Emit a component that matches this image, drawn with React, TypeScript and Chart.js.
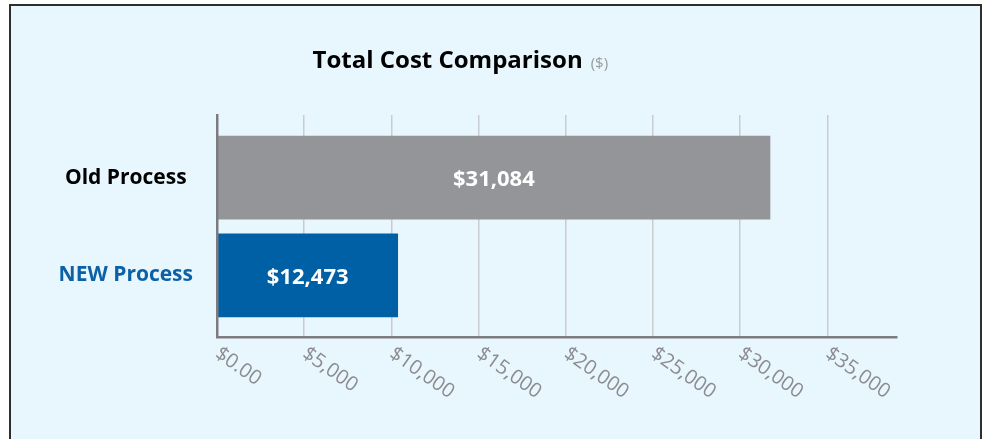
import React, { useEffect, useRef } from "react";
import { Chart, registerables } from "chart.js";

Chart.register(...registerables);

// ---- data ----
const categories = ["Old Process", "NEW Process"];
const barValues = [31716, 10364]; // bar lengths as drawn
const valueLabels = ["$31,084", "$12,473"]; // printed values inside the bars
const xTickValues = [0, 5000, 10000, 15000, 20000, 25000, 30000, 35000];
const xTickLabels = ["$0.00", "$5,000", "$10,000", "$15,000", "$20,000", "$25,000", "$30,000", "$35,000"];
const xMax = 39000;
const titleText = "Total Cost Comparison";
const titleUnit = "($)";

// ---- styles ----
const FONT = '"Open Sans", "Noto Sans", sans-serif';
const barColors = ["#949599", "#0060a5"];
const categoryLabelColors = ["#000000", "#0b60a6"];
const axisColor = "#7c7c80";
const gridColor = "#c9ccd0";
const tickColor = "#8c8c90";

const overlayPlugin = {
  id: "overlay",
  afterDatasetsDraw(chart: any) {
    const ctx = chart.ctx;
    const meta = chart.getDatasetMeta(0);
    ctx.save();
    ctx.font = `bold 22px ${FONT}`;
    ctx.fillStyle = "#ffffff";
    ctx.textAlign = "center";
    ctx.textBaseline = "alphabetic";
    meta.data.forEach((el: any, i: number) => {
      const { x, y, base } = el.getProps(["x", "y", "base"], true);
      ctx.fillText(valueLabels[i], (x + base) / 2, y + 8.5);
    });
    ctx.restore();
  },
  afterDraw(chart: any) {
    const ctx = chart.ctx;
    const xs = chart.scales.x;
    const bottom = chart.chartArea.bottom;
    ctx.save();
    ctx.font = `500 20px ${FONT}`;
    ctx.fillStyle = tickColor;
    ctx.textAlign = "left";
    ctx.textBaseline = "alphabetic";
    xs.ticks.forEach((t: any, i: number) => {
      const px = xs.getPixelForValue(t.value);
      ctx.save();
      ctx.translate(px - 3, bottom + 19.5);
      ctx.rotate((35 * Math.PI) / 180);
      ctx.fillText(xTickLabels[i] ?? String(t.label), 0, 0);
      ctx.restore();
    });
    // title
    ctx.font = `bold 24px ${FONT}`;
    ctx.fillStyle = "#000000";
    ctx.fillText(titleText, 312.5, 68.3);
    const w = ctx.measureText(titleText).width;
    ctx.font = `15px ${FONT}`;
    ctx.fillStyle = "#9a9a9d";
    ctx.fillText(titleUnit, 312.5 + w + 8, 68.3);
    ctx.restore();
  },
};

export default function App() {
  const ref = useRef<HTMLCanvasElement>(null);
  useEffect(() => {
    document.body.style.margin = "0";
    const chart = new Chart(ref.current!, {
      type: "bar",
      data: {
        datasets: [
          {
            data: barValues.map((v, i) => ({ x: v, y: i })),
            backgroundColor: barColors,
            borderWidth: 0,
            barThickness: 83,
          },
        ],
      },
      options: {
        indexAxis: "y",
        animation: false,
        responsive: false,
        maintainAspectRatio: false,
        layout: { padding: { top: 115, right: 86, bottom: 0, left: 0 } },
        plugins: { legend: { display: false }, tooltip: { enabled: false }, title: { display: false } },
        scales: {
          x: {
            type: "linear",
            position: "bottom",
            min: 0,
            max: xMax,
            afterBuildTicks: (s: any) => {
              s.ticks = xTickValues.map((v) => ({ value: v }));
            },
            ticks: { display: false },
            grid: { color: gridColor, lineWidth: 1.5, drawTicks: false },
            border: { display: true, color: axisColor, width: 2.5, z: 1 },
            afterFit: (s: any) => {
              s.height = 102;
            },
          },
          y: {
            type: "linear",
            position: "left",
            reverse: true,
            offset: false,
            bounds: "data",
            min: -0.64,
            max: 1.63,
            afterBuildTicks: (s: any) => {
              s.ticks = categories.map((_, i) => ({ value: i }));
            },
            afterFit: (s: any) => {
              s.width = 217;
            },
            ticks: {
              crossAlign: "center",
              padding: 24,
              autoSkip: false,
              font: { family: FONT, size: 21, weight: "bold" },
              color: (c: any) => categoryLabelColors[c.index] ?? "#000",
              callback: (v: any) => categories[v] ?? "",
            },
            grid: { display: false, drawTicks: false, offset: false },
            border: { display: true, color: axisColor, width: 2.5, z: 1 },
          },
        },
      },
      plugins: [overlayPlugin],
    } as any);
    return () => chart.destroy();
  }, []);

  return (
    <div style={{ position: "fixed", left: 0, top: 0, width: 983, height: 439, overflow: "hidden", background: "#ffffff" }}>
      <div
        style={{
          position: "absolute",
          left: 9,
          top: 4,
          width: 973,
          height: 500,
          boxSizing: "border-box",
          border: "2px solid #2e2e2e",
          background: "#e8f6fd",
        }}
      />
      <canvas ref={ref} width={983} height={439} style={{ position: "absolute", left: 0, top: 0, width: 983, height: 439 }} />
    </div>
  );
}
